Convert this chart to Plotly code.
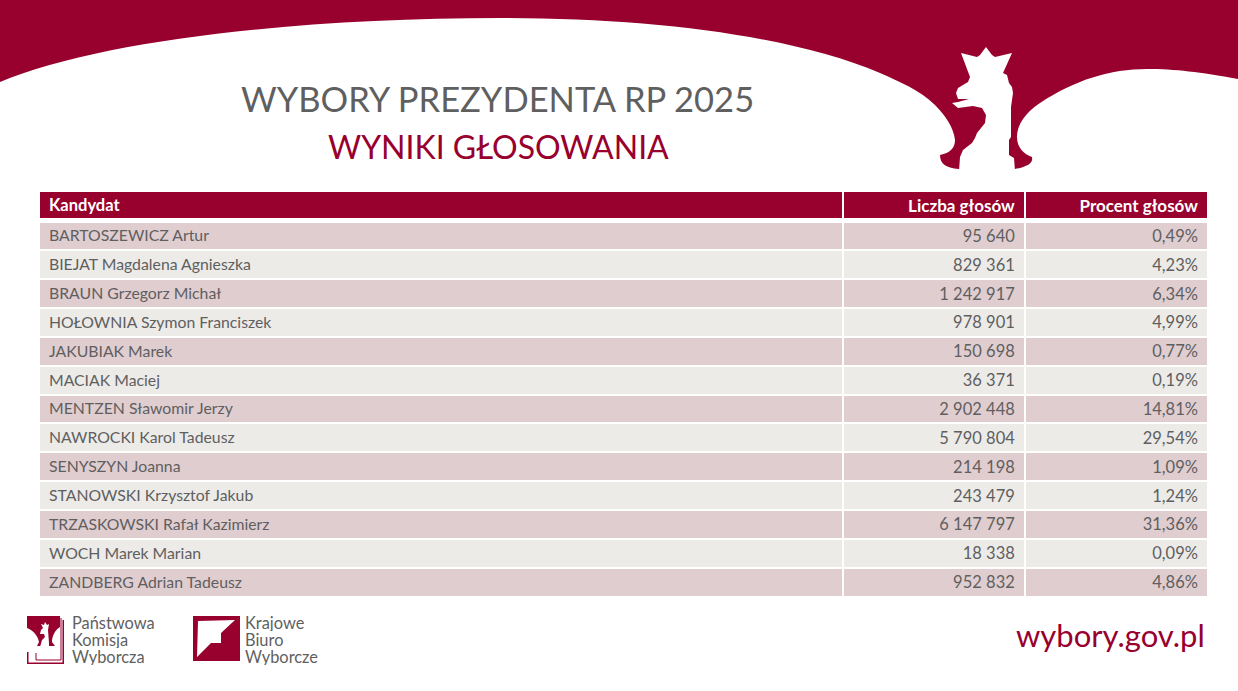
import plotly.graph_objects as go

candidates = ["BARTOSZEWICZ Artur", "BIEJAT Magdalena Agnieszka", "BRAUN Grzegorz Michał",
              "HOŁOWNIA Szymon Franciszek", "JAKUBIAK Marek", "MACIAK Maciej",
              "MENTZEN Sławomir Jerzy", "NAWROCKI Karol Tadeusz", "SENYSZYN Joanna",
              "STANOWSKI Krzysztof Jakub", "TRZASKOWSKI Rafał Kazimierz", "WOCH Marek Marian",
              "ZANDBERG Adrian Tadeusz"]
votes = [95640, 829361, 1242917, 978901, 150698, 36371, 2902448,
         5790804, 214198, 243479, 6147797, 18338, 952832]
percent = [0.49, 4.23, 6.34, 4.99, 0.77, 0.19, 14.81, 29.54, 1.09, 1.24, 31.36, 0.09, 4.86]
headers = ["Kandydat", "Liczba głosów", "Procent głosów"]

W, H = 1238, 691
CRIMSON = "#98002e"
GREY = "#5f5f5f"
FONT = "Lato"
PAD = "\u2009"  # nudges the text a little further from the cell edge
COLS = [803, 182, 183]
ALIGN = ["left", "right", "right"]
# an empty table header still takes 16px, so it is made invisible and the domains start 16px higher
NO_HEADER = dict(height=0, fill_color="rgba(0,0,0,0)", line=dict(width=0, color="rgba(0,0,0,0)"))
HEAD_GAP = 16

names_txt = [PAD + c for c in candidates]
votes_txt = [f"{v:,}".replace(",", " ") + PAD for v in votes]
percent_txt = [f"{p:.2f}%".replace(".", ",") + PAD for p in percent]
row_fill = ["#dfcdd0" if i % 2 == 0 else "#ecebe8" for i in range(len(candidates))]

fig = go.Figure()

# empty trace so the pixel-sized x/y axes exist for the shapes
fig.add_trace(go.Scatter(x=[0], y=[0], mode="none", showlegend=False, hoverinfo="skip"))

# header and body are separate tables, the gap under the header is wider than between rows
fig.add_trace(go.Table(
    domain=dict(x=[39 / W, 1208 / W], y=[1 - 220 / H, 1 - (191 - HEAD_GAP) / H]),
    columnwidth=COLS,
    header=NO_HEADER,
    cells=dict(values=[[PAD + headers[0]], [headers[1] + PAD], [headers[2] + PAD]], height=28,
               fill_color=CRIMSON, line=dict(color="white", width=2), align=ALIGN,
               font=dict(family=FONT, size=[16.5, 17, 17], color="white", weight=700)),
))
fig.add_trace(go.Table(
    domain=dict(x=[39 / W, 1208 / W], y=[1 - 598 / H, 1 - (221.5 - HEAD_GAP) / H]),
    columnwidth=COLS,
    header=NO_HEADER,
    cells=dict(values=[names_txt, votes_txt, percent_txt], height=28.85,
               fill_color=[row_fill] * 3, line=dict(color="white", width=2), align=ALIGN,
               font=dict(family=FONT, size=[15.8, 16.5, 16.5], color=GREY)),
))

# top banner with the notch around the eagle
banner = ("M0,0 L1238,0 L1238,79 C1200,72 1175,69 1147,69 C1110,69 1075,80 1040,103 "
          "C1025,113 1017,125 1017,137 C1017,148 1024,154 1032,157 C1033,162 1030,166 1015,169 "
          "L959,169 C945,168 940,163 940,155 C950,153 955,148 955,140 C954,128 945,115 935,105 "
          "C920,90 900,82 880,73 C790,35 650,18 500,18 C300,18 100,40 0,82 Z")
eagle = ("M961,53 L977,57 L980,55 L986,47 L992,55 L995,57 L1012,53 L1003,73 L1007,75 "
         "L1009,83 L1012,87 L1013,93 L1011,107 L1011,137 L1009,140 L1009,155 L1014,158 "
         "L1015,171 L959,171 L960,157 L963,150 L972,143 L975,138 L977,133 L985,123 L986,115 "
         "L982,108 L973,106 L958,108 L952,103 L958,102 L969,99 L958,99 L956,93 L958,88 "
         "L968,82 L970,77 Z")
kbw_white = "M198,621 L235,620 L221,633 L221,643 L211,643 L197,657 Z"
pkw_top = "M27,616 L60,616 L60,627 C55,630 52,636 52,642 L55,646 L37,646 L39,642 C38,636 33,630 27,628 Z"
pkw_eagle = ("M41,624 L44,625 L45,622 L47,625 L49,624 L48,630 L49,643 L49,647 L40,647 L42,640 "
             "L45,637 L44,634 L40,634 L41,630 L43,628 Z")
pkw_frame = [(27, 28.5, 652, 664), (27, 64, 662.5, 664), (62.5, 64, 620, 664),
             (35.5, 36.5, 653, 660), (36, 61, 659.5, 660.5), (60.5, 61.5, 618, 660)]

shapes = [
    dict(type="path", path=banner, fillcolor=CRIMSON, line_width=0, xref="x", yref="y"),
    dict(type="path", path=eagle, fillcolor="white", line_width=0, xref="x", yref="y"),
    dict(type="path", path=pkw_top, fillcolor=CRIMSON, line_width=0, xref="x", yref="y"),
    dict(type="path", path=pkw_eagle, fillcolor="white", line_width=0, xref="x", yref="y"),
    dict(type="rect", x0=193, x1=240, y0=616, y1=661, fillcolor=CRIMSON, line_width=0, xref="x", yref="y"),
    dict(type="path", path=kbw_white, fillcolor="white", line_width=0, xref="x", yref="y"),
]
for x0, x1, y0, y1 in pkw_frame:
    shapes.append(dict(type="rect", x0=x0, x1=x1, y0=y0, y1=y1, fillcolor=CRIMSON,
                       line_width=0, xref="x", yref="y"))


def label(x, y, text, size, color, anchor="left", height=None):
    return dict(x=x, y=y, text=text, xref="x", yref="y", showarrow=False, xanchor=anchor,
                yanchor="middle", height=height, font=dict(family=FONT, size=size, color=color))


annotations = [
    label(497, 98, "WYBORY PREZYDENTA RP 2025", 34.5, GREY, "center"),
    label(498, 146, "WYNIKI GŁOSOWANIA", 32, CRIMSON, "center"),
    label(70, 622, "Państwowa", 16.4, GREY, height=17),
    label(70, 639, "Komisja", 16.4, GREY, height=17),
    label(70, 656, "Wyborcza", 16.4, GREY, height=17),
    label(243, 622, "Krajowe", 16.4, GREY, height=17),
    label(243, 639, "Biuro", 16.4, GREY, height=17),
    label(243, 656, "Wyborcze", 16.4, GREY, height=17),
    label(1207, 635, "wybory.gov.pl", 31, CRIMSON, "right"),
]

fig.update_layout(
    width=W, height=H, margin=dict(l=0, r=0, t=0, b=0),
    paper_bgcolor="white", plot_bgcolor="white",
    xaxis=dict(range=[0, W], visible=False, fixedrange=True),
    yaxis=dict(range=[H, 0], visible=False, fixedrange=True),
    shapes=shapes, annotations=annotations, showlegend=False,
)

fig.write_html("out.html", config={"displayModeBar": False},
               post_script="document.body.style.margin='0';")
